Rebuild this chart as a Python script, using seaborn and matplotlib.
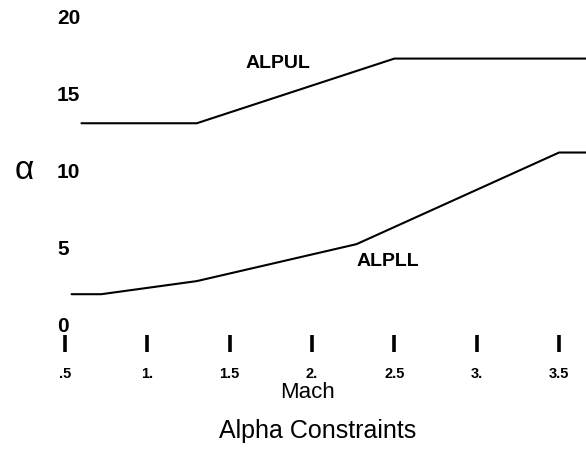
import matplotlib
matplotlib.use("Agg")
import matplotlib.pyplot as plt
import numpy as np
import pandas as pd
import seaborn as sns

# ---- data ----
mach_upper = [0.60, 1.30, 2.50, 3.70]
alpul = [13.1, 13.1, 17.3, 17.3]

mach_lower = [0.54, 0.72, 1.30, 2.27, 3.50, 3.70]
alpll = [2.0, 2.0, 2.85, 5.25, 11.2, 11.2]

x_ticks = [0.5, 1.0, 1.5, 2.0, 2.5, 3.0, 3.5]
x_tick_labels = [".5", "1.", "1.5", "2.", "2.5", "3.", "3.5"]
y_ticks = [0, 5, 10, 15, 20]
y_tick_labels = ["0", "5", "10", "15", "20"]

sns.set_theme(style="white")
plt.rcParams["font.family"] = ["Liberation Sans", "DejaVu Sans"]

W, H = 586, 451
fig = plt.figure(figsize=(W / 100, H / 100), dpi=100)
ax_l, ax_r, ax_b, ax_t = 65, 586, 325, 17
ax = fig.add_axes([ax_l / W, 1 - ax_b / H, (ax_r - ax_l) / W, (ax_b - ax_t) / H])

df_u = pd.DataFrame({"Mach": mach_upper, "alpha": alpul})
df_l = pd.DataFrame({"Mach": mach_lower, "alpha": alpll})
sns.lineplot(data=df_u, x="Mach", y="alpha", color="black", linewidth=1.5, ax=ax, sort=False)
sns.lineplot(data=df_l, x="Mach", y="alpha", color="black", linewidth=1.5, ax=ax, sort=False)

px_per_mach = 164.7
ax.set_xlim(0.5, 0.5 + (ax_r - ax_l) / px_per_mach)
ax.set_ylim(0, 20)

for s in ax.spines.values():
    s.set_visible(False)
ax.spines["bottom"].set_position(("outward", 7.2))

ax.set_xticks(x_ticks)
ax.set_xticklabels(x_tick_labels, fontsize=10.5, fontweight="bold")
ax.tick_params(axis="x", bottom=True, length=12.2, width=2.6, color="black",
               pad=11, labelcolor="black", direction="out")

ax.set_yticks(y_ticks)
ax.set_yticklabels(y_tick_labels, fontsize=15, fontweight="bold")
ax.tick_params(axis="y", left=True, length=0, pad=5.8, labelcolor="black")
for lbl in ax.get_yticklabels():
    lbl.set_horizontalalignment("left")

ax.set_ylabel("α", rotation=0, fontsize=24, color="black")
ax.yaxis.label.set_va("center")
ax.yaxis.label.set_ha("center")
ax.yaxis.set_label_coords((24 - ax_l) / (ax_r - ax_l), 0.5)

ax.set_xlabel("Mach", fontsize=16, color="black")
ax.xaxis.label.set_va("center")
ax.xaxis.set_label_coords((308 - ax_l) / (ax_r - ax_l), (ax_b - 393) / (ax_b - ax_t))

ax.text(1.79, 16.97, "ALPUL", fontsize=14, fontweight="bold", ha="center", va="center", color="black")
ax.text(2.46, 4.1, "ALPLL", fontsize=14, fontweight="bold", ha="center", va="center", color="black")

fig.text(318 / W, 1 - 431 / H, "Alpha Constraints", fontsize=18, ha="center", va="center", color="black")

fig.savefig("out.png", dpi=100)
